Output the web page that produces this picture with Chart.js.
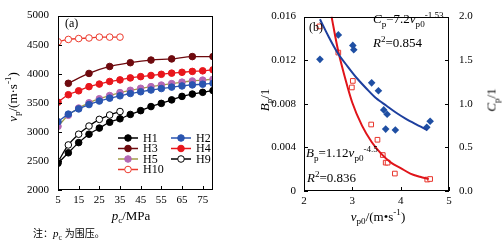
<!DOCTYPE html>
<html lang="zh">
<head>
<meta charset="UTF-8">
<title>vp vs pc, Bp / Cp vs vp0</title>
<script src="https://cdn.jsdelivr.net/npm/chart.js"></script>
<style>
    body { margin: 0; width: 503px; height: 241px; position: relative; overflow: hidden; background: #fff;
           font-family: "Liberation Serif", "Times New Roman", serif; color: #000; }
    canvas { position: absolute; top: 0; }
    .t { position: absolute; white-space: nowrap; line-height: 1; font-size: 13px; }
    .c { transform: translate(-50%, -50%); }
    .rot { transform: translate(-50%, -50%) rotate(-90deg); }
    sub, sup { font-size: 70%; line-height: 0; }
    .cn { font-family: "Noto Sans CJK SC", sans-serif; font-size: 10px; }
</style>
</head>
<body>
<canvas id="chartA" width="230" height="212" style="left:0"></canvas>
<canvas id="chartB" width="253" height="212" style="left:250px"></canvas>

<div class="t" style="left:65px;top:17px;font-size:12px">(a)</div>
<div class="t rot" style="left:12px;top:97px"><i>v</i><sub>p</sub>/(m·s<sup>-1</sup>)</div>
<div class="t c" style="left:131px;top:215px"><i>p</i><sub>c</sub>/MPa</div>
<div class="t" style="left:33px;top:228px;font-size:11px"><span class="cn">注：</span><i>p</i><sub>c</sub> <span class="cn">为围压。</span></div>

<div class="t" style="left:309px;top:21px;font-size:12px">(b)</div>
<div class="t" style="left:373px;top:12px"><i>C</i><sub>p</sub>=7.2<i>v</i><sub>p0</sub><sup>-1.53</sup></div>
<div class="t" style="left:373px;top:36px"><i>R</i><sup>2</sup>=0.854</div>
<div class="t" style="left:306px;top:146px"><i>B</i><sub>p</sub>=1.12<i>v</i><sub>p0</sub><sup>-4.5</sup></div>
<div class="t" style="left:307px;top:171px"><i>R</i><sup>2</sup>=0.836</div>
<div class="t rot" style="left:264px;top:100px"><i>B</i><sub>p</sub>/1</div>
<div class="t rot" style="left:491px;top:100px"><i>C</i><sub>p</sub>/1</div>
<div class="t c" style="left:378px;top:216px"><i>v</i><sub>p0</sub>/(m•s<sup>-1</sup>)</div>

<script>
// (a) vp against confining pressure pc
const pcFull  = [5, 10, 15, 20, 25, 30, 35, 40, 45, 50, 55, 60, 65, 70, 75, 80];
const pcShort = [5, 10, 15, 20, 25, 30, 35];
const pcH3    = [10, 20, 30, 40, 50, 60, 70, 80];
const h1  = [2460, 2640, 2815, 2960, 3065, 3165, 3225, 3300, 3365, 3435, 3490, 3550, 3610, 3650, 3680, 3710];
const h2  = [3175, 3305, 3395, 3470, 3530, 3580, 3620, 3660, 3690, 3720, 3745, 3770, 3790, 3808, 3820, 3835];
const h3  = [3835, 4005, 4125, 4190, 4235, 4255, 4295, 4295];
const h4  = [3511, 3639, 3706, 3778, 3822, 3867, 3894, 3928, 3950, 3970, 3990, 4010, 4025, 4040, 4050, 4067];
const h5  = [3095, 3285, 3410, 3500, 3570, 3625, 3675, 3715, 3750, 3778, 3805, 3830, 3855, 3875, 3890, 3905];
const h9  = [2485, 2775, 2960, 3100, 3215, 3290, 3350];
const h10 = [4550, 4590, 4605, 4615, 4630, 4630, 4630];
const pcTicks = [5, 15, 25, 35, 45, 55, 65, 75];
const vpTicks = [2000, 2500, 3000, 3500, 4000, 4500, 5000];

// (b) Bp and Cp against vp0
const bpV   = [2.32, 2.71, 3.01, 2.99, 3.39, 3.52, 3.63, 3.69, 3.73, 3.88, 4.55, 4.61];
const bpVal = [0.0151, 0.0127, 0.0101, 0.0095, 0.0061, 0.0047, 0.0033, 0.0026, 0.0026, 0.0016, 0.00105, 0.0011];
const cpV   = [2.33, 2.71, 3.01, 3.03, 3.40, 3.54, 3.65, 3.72, 3.69, 3.89, 4.54, 4.61];
const cpVal = [1.51, 1.79, 1.67, 1.62, 1.24, 1.15, 0.93, 0.88, 0.71, 0.70, 0.73, 0.80];
const cpFitV   = [2.33, 2.5, 2.7, 2.9, 3.1, 3.3, 3.5, 3.7, 3.9, 4.1, 4.3, 4.55];
const cpFitVal = [1.97, 1.78, 1.58, 1.43, 1.29, 1.17, 1.06, 0.98, 0.90, 0.83, 0.77, 0.70];
const bpFitV   = [2.57, 2.7, 2.8, 3.0, 3.2, 3.4, 3.6, 3.8, 4.0, 4.2, 4.4, 4.58];
const bpFitVal = [0.0160, 0.0130, 0.0112, 0.0081, 0.0060, 0.0045, 0.0034, 0.0026, 0.0021, 0.0016, 0.0013, 0.0011];
const v0Ticks = [2, 3, 4, 5];
const bpTicks = [0, 0.004, 0.008, 0.012, 0.016];
const cpTicks = [0, 0.5, 1.0, 1.5, 2.0];

const pts = (xs, ys) => xs.map((x, i) => ({x: x, y: ys[i]}));
const tickFont = {family: '"Liberation Serif", serif', size: 11};

// box round the plot and short ticks pointing inwards
const frameTicks = {
    id: 'frameTicks',
    afterDraw(chart) {
        const ctx = chart.ctx, a = chart.chartArea;
        ctx.save();
        ctx.strokeStyle = '#000';
        ctx.lineWidth = 1;
        ctx.strokeRect(Math.round(a.left) + 0.5, Math.round(a.top) + 0.5,
                       Math.round(a.right - a.left) - 1, Math.round(a.bottom - a.top) - 1);
        ctx.beginPath();
        Object.values(chart.scales).forEach(s => {
            s.ticks.forEach(t => {
                const p = Math.round(s.getPixelForValue(t.value)) + 0.5;
                if (s.axis === 'x') {
                    ctx.moveTo(p, a.bottom); ctx.lineTo(p, a.bottom - 4);
                } else if (s.position === 'left') {
                    ctx.moveTo(a.left, p); ctx.lineTo(a.left + 4, p);
                } else {
                    ctx.moveTo(a.right, p); ctx.lineTo(a.right - 4, p);
                }
            });
        });
        ctx.stroke();
        ctx.restore();
    }
};

// legend of panel (a), drawn inside the plot
const legendRows = [['H1', 'H2'], ['H3', 'H4'], ['H5', 'H9'], ['H10']];
const innerLegend = {
    id: 'innerLegend',
    afterDraw(chart) {
        const ctx = chart.ctx;
        ctx.save();
        ctx.font = '12px "Liberation Serif", serif';
        ctx.textBaseline = 'middle';
        legendRows.forEach((row, r) => {
            row.forEach((name, c) => {
                const ds = chart.data.datasets.find(d => d.label === name);
                const x0 = c === 0 ? 118 : 171, y = 138 + r * 10.5;
                ctx.strokeStyle = ds.borderColor;
                ctx.lineWidth = 1.5;
                ctx.beginPath(); ctx.moveTo(x0, y); ctx.lineTo(x0 + 20, y); ctx.stroke();
                ctx.beginPath(); ctx.arc(x0 + 10, y, 3.3, 0, Math.PI * 2);
                ctx.fillStyle = ds.pointBackgroundColor; ctx.fill();
                ctx.strokeStyle = ds.pointBorderColor; ctx.lineWidth = 1; ctx.stroke();
                ctx.fillStyle = '#000';
                ctx.fillText(name, x0 + 25, y + 0.5);
            });
        });
        ctx.restore();
    }
};

function series(label, xs, ys, line, fill, edge) {
    return {
        label: label, data: pts(xs, ys), showLine: true,
        borderColor: line, borderWidth: 1.3, tension: 0.4, cubicInterpolationMode: 'monotone',
        pointRadius: 3.3, pointBackgroundColor: fill, pointBorderColor: edge, pointBorderWidth: 1
    };
}

new Chart(document.getElementById('chartA'), {
    type: 'scatter',
    data: {
        datasets: [
            series('H1', pcFull, h1, '#000000', '#000000', '#000000'),
            series('H2', pcFull, h2, '#2a55b0', '#2a55b0', '#2a55b0'),
            series('H3', pcH3, h3, '#6e0a0e', '#6e0a0e', '#6e0a0e'),
            series('H4', pcFull, h4, '#e8161c', '#e8161c', '#e8161c'),
            series('H5', pcFull, h5, '#a09c48', '#b468b4', '#b468b4'),
            series('H9', pcShort, h9, '#000000', '#ffffff', '#000000'),
            series('H10', pcShort, h10, '#ec3b2e', '#ffffff', '#ec3b2e')
        ]
    },
    options: {
        responsive: false, animation: false,
        layout: {padding: {left: 0, right: 17, top: 10, bottom: 0}},
        plugins: {legend: {display: false}, tooltip: {enabled: false}},
        scales: {
            x: {
                type: 'linear', min: 5, max: 80,
                grid: {display: false, drawTicks: false}, border: {display: false},
                afterBuildTicks: s => { s.ticks = pcTicks.map(v => ({value: v})); },
                afterFit: s => { s.height = 22; },
                ticks: {font: tickFont, color: '#000', padding: 4, maxRotation: 0, autoSkip: false,
                        callback: v => String(v)}
            },
            y: {
                min: 2000, max: 5000,
                grid: {display: false, drawTicks: false}, border: {display: false},
                afterBuildTicks: s => { s.ticks = vpTicks.map(v => ({value: v})); },
                afterFit: s => { s.width = 58; },
                ticks: {font: tickFont, color: '#000', padding: 9, callback: v => String(v)}
            }
        }
    },
    plugins: [frameTicks, innerLegend]
});

new Chart(document.getElementById('chartB'), {
    type: 'scatter',
    data: {
        datasets: [
            {label: 'Cp fit', data: pts(cpFitV, cpFitVal), yAxisID: 'y2', showLine: true,
             borderColor: '#1d3f9e', borderWidth: 2, pointRadius: 0, tension: 0.3},
            {label: 'Bp fit', data: pts(bpFitV, bpFitVal), yAxisID: 'y', showLine: true,
             borderColor: '#e0141a', borderWidth: 2, pointRadius: 0, tension: 0.4, cubicInterpolationMode: 'monotone'},
            {label: 'Cp', data: pts(cpV, cpVal), yAxisID: 'y2', pointStyle: 'rectRot', pointRadius: 3.8,
             backgroundColor: '#1f4fa3', borderColor: '#1f4fa3', pointBorderWidth: 0},
            {label: 'Bp', data: pts(bpV, bpVal), yAxisID: 'y', pointStyle: 'rect', pointRadius: 3.3,
             backgroundColor: '#ffffff', borderColor: '#e8352c', pointBorderWidth: 1}
        ]
    },
    options: {
        responsive: false, animation: false,
        layout: {padding: {left: 0, right: 0, top: 7, bottom: 0}},
        plugins: {legend: {display: false}, tooltip: {enabled: false}},
        scales: {
            x: {
                type: 'linear', min: 2, max: 5,
                grid: {display: false, drawTicks: false}, border: {display: false},
                afterBuildTicks: s => { s.ticks = v0Ticks.map(v => ({value: v})); },
                afterFit: s => { s.height = 21; },
                ticks: {font: tickFont, color: '#000', padding: 4, maxRotation: 0}
            },
            y: {
                position: 'left', min: 0, max: 0.016,
                grid: {display: false, drawTicks: false}, border: {display: false},
                afterBuildTicks: s => { s.ticks = bpTicks.map(v => ({value: v})); },
                afterFit: s => { s.width = 54; },
                ticks: {font: tickFont, color: '#000', padding: 8,
                        callback: v => v === 0 ? '0' : v.toFixed(3)}
            },
            y2: {
                position: 'right', min: 0, max: 2,
                grid: {display: false, drawTicks: false}, border: {display: false},
                afterBuildTicks: s => { s.ticks = cpTicks.map(v => ({value: v})); },
                afterFit: s => { s.width = 54; },
                ticks: {font: tickFont, color: '#000', padding: 10, callback: v => v.toFixed(1)}
            }
        }
    },
    plugins: [frameTicks]
});
</script>
</body>
</html>
